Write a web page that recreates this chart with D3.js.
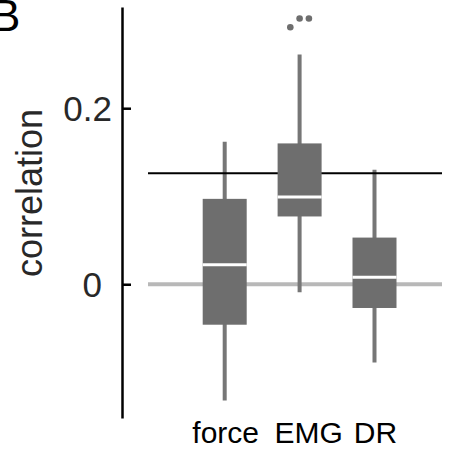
<!DOCTYPE html>
<html>
<head>
<meta charset="utf-8">
<script src="https://cdn.jsdelivr.net/npm/d3@7"></script>
<style>
	body { margin: 0; background: #fff; }
	svg { display: block; }
</style>
</head>
<body>
<script>
	// box statistics per category
	var categories = ["force", "EMG", "DR"];
	var whiskerLow = [-0.132, -0.009, -0.089];
	var q1 = [-0.046, 0.077, -0.027];
	var median = [0.022, 0.099, 0.008];
	var q3 = [0.097, 0.160, 0.053];
	var whiskerHigh = [0.162, 0.261, 0.130];

	// outliers (only EMG has some), slot = side by side offset
	var outlierCategory = ["EMG", "EMG", "EMG"];
	var outlierValues = [0.292, 0.302, 0.302];
	var outlierSlot = [-1, 0, 1];

	var yTicks = [0, 0.2];
	var zeroLine = 0;
	var refLine = 0.126;

	var width = 453,
		height = 458;

	var boxColor = "rgb(110, 110, 110)";
	var whiskerColor = "rgb(118, 118, 118)";

	var svg = d3.select("body").append("svg")
		.attr("width", width)
		.attr("height", height);

	var x = d3.scalePoint()
		.domain(categories)
		.range([224.7, 374.5]);

	var y = d3.scaleLinear()
		.domain([-0.152, 0.315])
		.range([418, 7]);

	var boxW = 44;

	// panel letter
	svg.append("text")
		.attr("x", -9)
		.attr("y", 31)
			.style("font-family", "'Liberation Sans', Arial, sans-serif")
			.style("font-size", "44px")
			.style("fill", "#000")
		.text("B");

	// zero line
	svg.append("line")
		.attr("x1", 148).attr("x2", 442)
		.attr("y1", y(zeroLine)).attr("y2", y(zeroLine))
			.style("stroke", "rgb(184, 184, 184)")
			.style("stroke-width", 4);

	var data = categories.map(function(c, i) {
		return { cat: c, lo: whiskerLow[i], q1: q1[i], med: median[i], q3: q3[i], hi: whiskerHigh[i] };
	});

	// whiskers
	svg.selectAll(".whisker")
		.data(data)
		.enter().append("line")
		.attr("class", "whisker")
		.attr("x1", function(d) { return x(d.cat); })
		.attr("x2", function(d) { return x(d.cat); })
		.attr("y1", function(d) { return y(d.lo); })
		.attr("y2", function(d) { return y(d.hi); })
			.style("stroke", whiskerColor)
			.style("stroke-width", 4);

	// reference line
	svg.append("line")
		.attr("x1", 148).attr("x2", 442)
		.attr("y1", y(refLine)).attr("y2", y(refLine))
			.style("stroke", "#000")
			.style("stroke-width", 2);

	// boxes
	svg.selectAll(".box")
		.data(data)
		.enter().append("rect")
		.attr("class", "box")
		.attr("x", function(d) { return x(d.cat) - boxW / 2; })
		.attr("width", boxW)
		.attr("y", function(d) { return y(d.q3); })
		.attr("height", function(d) { return y(d.q1) - y(d.q3); })
			.style("fill", boxColor);

	// medians
	svg.selectAll(".median")
		.data(data)
		.enter().append("line")
		.attr("class", "median")
		.attr("x1", function(d) { return x(d.cat) - boxW / 2; })
		.attr("x2", function(d) { return x(d.cat) + boxW / 2; })
		.attr("y1", function(d) { return y(d.med); })
		.attr("y2", function(d) { return y(d.med); })
			.style("stroke", "#fff")
			.style("stroke-width", 3);

	// outliers
	svg.selectAll(".outlier")
		.data(outlierValues)
		.enter().append("circle")
		.attr("class", "outlier")
		.attr("cx", function(d, i) { return x(outlierCategory[i]) + outlierSlot[i] * 9.3; })
		.attr("cy", function(d) { return y(d); })
		.attr("r", 3.3)
			.style("fill", boxColor);

	// y axis
	var yAxis = d3.axisLeft(y)
		.tickValues(yTicks)
		.tickSize(-9)
		.tickSizeOuter(0)
		.tickPadding(10)
		.tickFormat(function(d) { return d === 0 ? "0" : d3.format(".1f")(d); });

	var gy = svg.append("g")
		.attr("transform", "translate(122, 0)")
		.call(yAxis);

	gy.select(".domain")
		.style("stroke", "#000")
		.style("stroke-width", 2.5);
	gy.selectAll(".tick line")
		.style("stroke", "#000")
		.style("stroke-width", 2.5);
	gy.selectAll(".tick text")
		.attr("dx", function(d) { return d === 0 ? -10 : 0; })
		.attr("dy", "0.36em")
			.style("font-family", "'Liberation Sans', Arial, sans-serif")
			.style("font-size", "35px")
			.style("fill", "rgb(40, 40, 40)");

	// y label
	svg.append("text")
		.attr("transform", "translate(42, 193) rotate(-90)")
		.attr("text-anchor", "middle")
			.style("font-family", "'Liberation Sans', Arial, sans-serif")
			.style("font-size", "36px")
			.style("fill", "rgb(40, 40, 40)")
		.text("correlation");

	// category labels
	svg.selectAll(".catlabel")
		.data(categories)
		.enter().append("text")
		.attr("class", "catlabel")
		.attr("x", function(d) { return x(d) + (d === "EMG" ? 9 : 1); })
		.attr("y", 443)
		.attr("text-anchor", "middle")
			.style("font-family", "'Liberation Sans', Arial, sans-serif")
			.style("font-size", "30px")
			.style("fill", "#000")
		.text(function(d) { return d; });
</script>
</body>
</html>
